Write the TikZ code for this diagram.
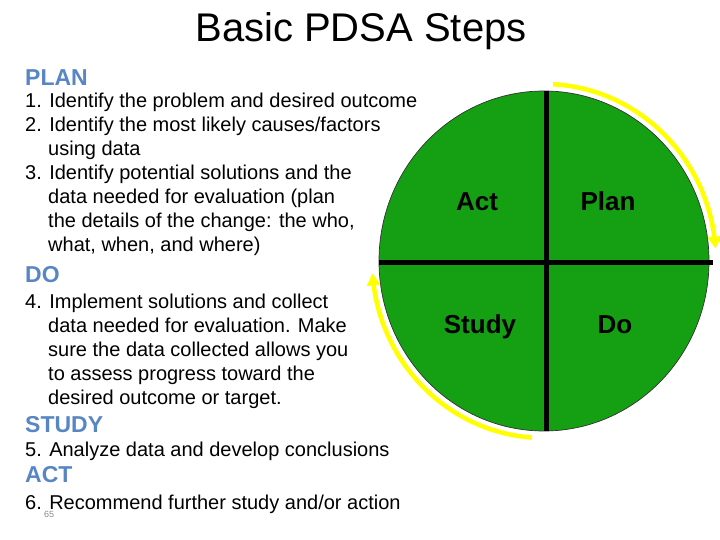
\documentclass[tikz,border=0pt]{standalone}
\usepackage{fontspec}
\setmainfont{Liberation Sans}
\usetikzlibrary{arrows.meta,bending}
\definecolor{pdsagreen}{RGB}{20,160,18}
\definecolor{headblue}{RGB}{88,134,196}
\definecolor{arcyellow}{RGB}{255,255,0}
\begin{document}
\begin{tikzpicture}[x=1pt,y=1pt,
  txt/.style={anchor=base west, inner sep=0pt, font=\fontsize{20}{24}\selectfont},
  head/.style={anchor=base west, inner sep=0pt, text=headblue, font=\fontsize{23}{26}\selectfont\bfseries},
  quad/.style={anchor=base, inner sep=0pt, font=\fontsize{26}{30}\selectfont\bfseries},
  divider/.style={line width=5pt, black},
  cyclearc/.style={arcyellow, line width=4.5pt, -{Triangle[width=13pt,length=12pt]}}
]
\useasboundingbox (0,0) rectangle (720,540);
% title
\node[anchor=base, inner sep=0pt, font=\fontsize{40}{44}\selectfont] (title) at (361,498) {Basic PDSA Steps};
% PLAN
\node[head] (hplan) at (25,454) {PLAN};
\node[txt] (p1) at (25,432) {1. Identify the problem and desired outcome};
\node[txt] (p2) at (25,408) {2. Identify the most likely causes/factors};
\node[txt] (p2b) at (48,384) {using data};
\node[txt] (p3) at (25,360) {3. Identify potential solutions and the};
\node[txt] (p3b) at (48,336) {data needed for evaluation (plan};
\node[txt] (p3c) at (48,312) {the details of the change: the who,};
\node[txt] (p3d) at (48,288) {what, when, and where)};
% DO
\node[head] (hdo) at (25,257) {DO};
\node[txt] (d1) at (25,231) {4. Implement solutions and collect};
\node[txt] (d1b) at (48,207) {data needed for evaluation. Make};
\node[txt] (d1c) at (48,183) {sure the data collected allows you};
\node[txt] (d1d) at (48,159) {to assess progress toward the};
\node[txt] (d1e) at (48,135) {desired outcome or target.};
% STUDY
\node[head] (hstudy) at (25,107) {STUDY};
\node[txt] (s1) at (25,83) {5. Analyze data and develop conclusions};
% ACT
\node[head] (hact) at (25,57) {ACT};
\node[txt] (a1) at (25,30) {6. Recommend further study and/or action};
\node[anchor=base west, inner sep=0pt, text=black!45, font=\fontsize{9}{10}\selectfont] (pagenum) at (44,22) {65};
% cycle circle
\coordinate (c) at (544,279);
\fill[pdsagreen] (c) ellipse[x radius=165, y radius=170];
\draw[black!80, line width=0.7pt] (c) ellipse[x radius=165, y radius=170];
\coordinate (vtop) at (546,449);
\coordinate (vbot) at (546,109);
\coordinate (hl) at (379,277);
\coordinate (hr) at (713,277);
\draw[divider] (vtop) -- (vbot);
\draw[divider] (hl) -- (hr);
\node[quad] (act) at (477,329) {Act};
\node[quad] (plan) at (608,329) {Plan};
\node[quad] (study) at (480,206.5) {Study};
\node[quad] (do) at (615,206.5) {Do};
% yellow arcs
\draw[cyclearc] ([shift={(87:172 and 177)}]c) arc[start angle=87, end angle=4, x radius=172, y radius=177];
\draw[cyclearc] ([shift={(266:172 and 177)}]c) arc[start angle=266, end angle=184, x radius=172, y radius=177];
\end{tikzpicture}
\end{document}
